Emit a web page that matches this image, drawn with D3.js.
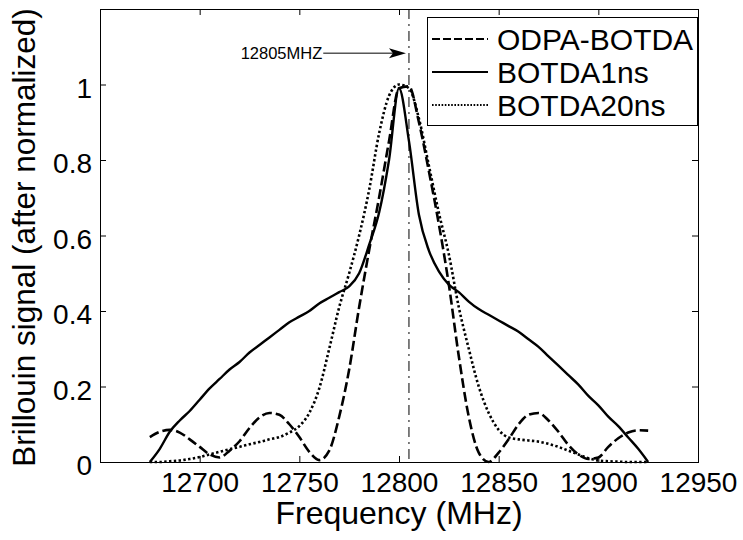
<!DOCTYPE html>
<html>
<head>
<meta charset="utf-8">
<script src="https://cdn.jsdelivr.net/npm/d3@7"></script>
<style>
  body { margin: 0; background: #fff; }
  text { font-family: "Liberation Sans", Arial, Helvetica, sans-serif; fill: #000; }
</style>
</head>
<body>
<svg id="chart" width="743" height="540"></svg>
<script>
// Frequency grid (MHz)
const freqs = [
  12675, 12680, 12685, 12690, 12695, 12700, 12705, 12710, 12715, 12720, 12725,
  12730, 12735, 12740, 12745, 12750, 12755, 12760, 12765, 12770, 12775,
  12780, 12785, 12790, 12795, 12800, 12805, 12810, 12815, 12820, 12825,
  12830, 12835, 12840, 12845, 12850, 12855, 12860, 12865, 12870, 12875,
  12880, 12885, 12890, 12895, 12900, 12905, 12910, 12915, 12920, 12925
];

// Normalised Brillouin gain spectra
const odpaBotda = [
  0.066, 0.080, 0.085, 0.078, 0.060, 0.040, 0.020, 0.012, 0.030, 0.055, 0.090,
  0.118, 0.130, 0.125, 0.100, 0.066, 0.027, 0.005, 0.030, 0.120, 0.245,
  0.410, 0.560, 0.700, 0.850, 0.990, 0.995, 0.900, 0.770, 0.630, 0.470,
  0.280, 0.120, 0.025, 0.000, 0.025, 0.060, 0.100, 0.125, 0.130, 0.110,
  0.080, 0.045, 0.020, 0.008, 0.012, 0.040, 0.063, 0.078, 0.084, 0.083
];
const botda1ns = [
  0.000, 0.035, 0.080, 0.110, 0.135, 0.165, 0.195, 0.220, 0.245, 0.265, 0.290,
  0.310, 0.330, 0.350, 0.370, 0.385, 0.400, 0.420, 0.435, 0.450, 0.465,
  0.500, 0.575, 0.660, 0.800, 0.990, 0.850, 0.655, 0.560, 0.505, 0.470,
  0.450, 0.425, 0.405, 0.390, 0.375, 0.360, 0.345, 0.325, 0.305, 0.280,
  0.255, 0.230, 0.205, 0.175, 0.150, 0.120, 0.095, 0.065, 0.035, 0.000
];
const botda20ns = [
  0.000, 0.000, 0.002, 0.004, 0.008, 0.013, 0.020, 0.027, 0.034, 0.040, 0.047,
  0.053, 0.060, 0.066, 0.078, 0.095, 0.130, 0.195, 0.300, 0.410, 0.500,
  0.600, 0.720, 0.870, 0.970, 1.000, 0.990, 0.910, 0.785, 0.660, 0.550,
  0.410, 0.300, 0.200, 0.130, 0.085, 0.065, 0.060, 0.057, 0.054, 0.048,
  0.040, 0.030, 0.020, 0.010, 0.004, 0.002, 0.001, 0.000, 0.000, 0.000
];

const seriesNames = ["ODPA-BOTDA", "BOTDA1ns", "BOTDA20ns"];
const xTicks = [12700, 12750, 12800, 12850, 12900, 12950];
const yTicks = [0, 0.2, 0.4, 0.6, 0.8, 1];
const peakFreq = 12805;
const peakLabel = "12805MHZ";

const svg = d3.select("#chart");
const plotLeft = 100, plotRight = 698, plotTop = 9, plotBottom = 462;

const x = d3.scaleLinear().domain([12650, 12950]).range([plotLeft, plotRight]);
const y = d3.scaleLinear().domain([0, 1.2]).range([plotBottom, plotTop]);

// Axes with inward ticks on all four sides
const gx = svg.append("g").attr("transform", `translate(0,${plotBottom})`)
  .call(d3.axisBottom(x).tickValues(xTicks).tickFormat(d3.format("d"))
    .tickSizeInner(-6).tickSizeOuter(0).tickPadding(10));
const gxTop = svg.append("g").attr("transform", `translate(0,${plotTop})`)
  .call(d3.axisTop(x).tickValues(xTicks).tickFormat("")
    .tickSizeInner(-6).tickSizeOuter(0));
const gy = svg.append("g").attr("transform", `translate(${plotLeft},0)`)
  .call(d3.axisLeft(y).tickValues(yTicks).tickFormat(d3.format("~g"))
    .tickSizeInner(-6).tickSizeOuter(0).tickPadding(8));
const gyRight = svg.append("g").attr("transform", `translate(${plotRight},0)`)
  .call(d3.axisRight(y).tickValues(yTicks).tickFormat("")
    .tickSizeInner(-6).tickSizeOuter(0));

[gx, gxTop, gy, gyRight].forEach(g => {
  g.select(".domain").remove();
  g.selectAll(".tick line").attr("stroke", "#000").attr("stroke-width", 1);
  g.selectAll(".tick text").attr("font-size", 28)
    .attr("font-family", '"Liberation Sans", Arial, sans-serif').attr("fill", "#000");
});
gy.selectAll(".tick text").attr("dy", "0.45em");

// Axes box
svg.append("rect")
  .attr("x", plotLeft + 0.5).attr("y", plotTop + 0.5)
  .attr("width", plotRight - plotLeft).attr("height", plotBottom - plotTop)
  .attr("fill", "none").attr("stroke", "#000").attr("stroke-width", 1);

// Axis titles
svg.append("text")
  .attr("x", (plotLeft + plotRight) / 2).attr("y", 524)
  .attr("text-anchor", "middle").attr("font-size", 32)
  .text("Frequency (MHz)");
svg.append("text")
  .attr("transform", `translate(35,${(plotTop + plotBottom) / 2 + 2}) rotate(-90)`)
  .attr("text-anchor", "middle").attr("font-size", 31.5)
  .text("Brillouin signal (after normalized)");

// Peak frequency marker
svg.append("line")
  .attr("x1", x(peakFreq)).attr("x2", x(peakFreq))
  .attr("y1", plotTop).attr("y2", plotBottom)
  .attr("stroke", "#000").attr("stroke-width", 1)
  .attr("stroke-dasharray", "10,5,2,5");

const arrowY = y(1.083);
const labelEnd = x(12762);
svg.append("text")
  .attr("x", labelEnd - 1).attr("y", arrowY + 5.5)
  .attr("text-anchor", "end").attr("font-size", 16.5)
  .text(peakLabel);
svg.append("line")
  .attr("x1", labelEnd).attr("x2", x(peakFreq) - 8)
  .attr("y1", arrowY).attr("y2", arrowY)
  .attr("stroke", "#000").attr("stroke-width", 1);
const tip = x(peakFreq) - 3;
svg.append("path")
  .attr("d", `M${tip},${arrowY} L${tip - 17},${arrowY - 5} L${tip - 13},${arrowY} L${tip - 17},${arrowY + 5} Z`)
  .attr("fill", "#000");

// Spectra
const styles = [
  { values: odpaBotda, dash: "10,4", width: 2.6, legendDash: "8,3", legendWidth: 2.2 },
  { values: botda1ns, dash: null, width: 2.4, legendDash: null, legendWidth: 2.2 },
  { values: botda20ns, dash: "2.4,2.4", width: 2.6, legendDash: "1.6,1.6", legendWidth: 1.8 }
];

const line = d3.line()
  .x(d => x(d[0]))
  .y(d => y(d[1]))
  .curve(d3.curveMonotoneX);

styles.forEach(s => {
  svg.append("path")
    .datum(freqs.map((f, i) => [f, s.values[i]]))
    .attr("d", line)
    .attr("fill", "none")
    .attr("stroke", "#000")
    .attr("stroke-width", s.width)
    .attr("stroke-dasharray", s.dash)
    .attr("stroke-linejoin", "round");
});

// Legend
const legend = svg.append("g");
legend.append("rect")
  .attr("x", 427.5).attr("y", 17.5).attr("width", 270).attr("height", 108)
  .attr("fill", "#fff").attr("stroke", "#000").attr("stroke-width", 1);
seriesNames.forEach((name, i) => {
  const ly = 39 + i * 33;
  legend.append("line")
    .attr("x1", 432).attr("x2", 488).attr("y1", ly).attr("y2", ly)
    .attr("stroke", "#000").attr("stroke-width", styles[i].legendWidth)
    .attr("stroke-dasharray", styles[i].legendDash);
  legend.append("text")
    .attr("x", 497).attr("y", ly + 10.5)
    .attr("font-size", 30)
    .text(name);
});
</script>
</body>
</html>
